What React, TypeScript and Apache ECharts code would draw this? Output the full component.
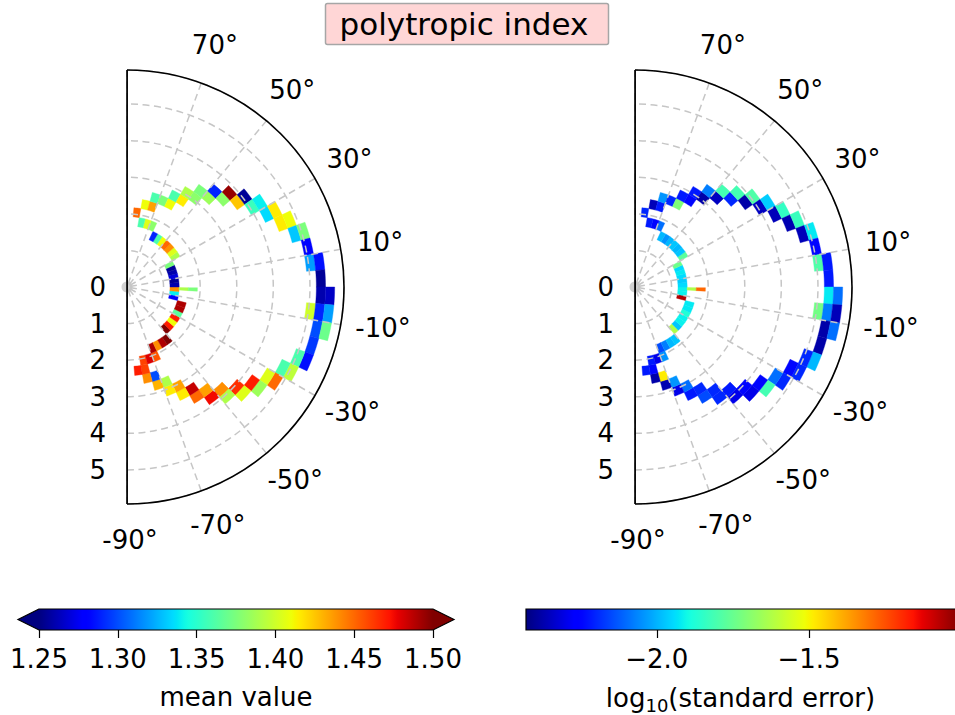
import React, { useEffect, useRef } from "react";
import * as echarts from "echarts";

// ---------------- data ----------------
// Bin centres: latitude angle (deg) and radial distance; 5° x 0.25 bins
const cellTheta = [
  82.5, 77.5, 72.5, 72.5, 67.5, 62.5, 62.5, 57.5, 57.5, 52.5,
  52.5, 47.5, 47.5, 42.5, 42.5, 37.5, 37.5, 32.5, 32.5, 27.5,
  27.5, 22.5, 22.5, 17.5, 17.5, 12.5, 7.5, 7.5, 2.5, -2.5,
  -2.5, -7.5, -7.5, -7.5, -12.5, -12.5, -17.5, -22.5, -22.5, -27.5,
  -27.5, -32.5, -32.5, -37.5, -37.5, -42.5, -42.5, -47.5, -47.5, -52.5,
  -52.5, -57.5, -57.5, -62.5, -62.5, -67.5, -67.5, -72.5, -72.5, -77.5,
  -77.5, -82.5, -77.5, -72.5, -67.5, -67.5, -62.5, -57.5, -52.5, -47.5,
  -42.5, -37.5, -32.5, -27.5, -22.5, -17.5, -12.5, -7.5, -2.5, 2.5,
  7.5, 12.5, 17.5, 22.5, 27.5, 32.5, 37.5, 42.5, 47.5, 52.5,
  57.5, 62.5, 67.5, 72.5, 77.5,
];
const cellRadius = [
  2.05, 2.3, 2.3, 2.55, 2.55, 2.55, 2.8, 2.8, 3.05, 3.05,
  3.3, 3.3, 3.55, 3.55, 3.8, 3.8, 4.05, 4.05, 4.3, 4.3,
  4.55, 4.55, 4.8, 4.8, 5.05, 5.05, 5.05, 5.3, 5.3, 5.3,
  5.55, 5.05, 5.3, 5.55, 5.3, 5.55, 5.3, 5.3, 5.05, 5.05,
  4.8, 4.8, 4.55, 4.55, 4.3, 4.3, 4.05, 4.05, 3.8, 3.8,
  3.55, 3.55, 3.3, 3.3, 3.05, 3.05, 2.8, 2.8, 2.55, 2.55,
  2.3, 2.3, 2.05, 2.05, 2.05, 1.8, 1.8, 1.8, 1.8, 1.55,
  1.55, 1.55, 1.55, 1.55, 1.55, 1.55, 1.3, 1.3, 1.3, 1.3,
  1.3, 1.3, 1.3, 1.3, 1.3, 1.55, 1.55, 1.55, 1.55, 1.55,
  1.55, 1.55, 1.8, 1.8, 1.8,
];
const meanValue = [
  1.45, 1.41, 1.435, 1.36, 1.375, 1.41, 1.36, 1.415, 1.39, 1.38,
  1.375, 1.385, 1.29, 1.38, 1.495, 1.425, 1.255, 1.355, 1.34, 1.335,
  1.415, 1.415, 1.41, 1.33, 1.375, 1.28, 1.32, 1.285, 1.255, 1.26,
  1.265, 1.40, 1.29, 1.32, 1.30, 1.37, 1.295, 1.285, 1.36, 1.395,
  1.36, 1.45, 1.405, 1.385, 1.47, 1.405, 1.465, 1.39, 1.44, 1.475,
  1.435, 1.45, 1.485, 1.415, 1.435, 1.415, 1.39, 1.43, 1.30, 1.44,
  1.46, 1.47, 1.46, 1.48, 1.455, 1.49, 1.44, 1.49, 1.50, 1.50,
  1.47, 1.41, 1.47, 1.365, 1.49, 1.49, 1.28, 1.34, 1.44, 1.26,
  1.255, 1.27, 1.26, 1.255, 1.375, 1.39, 1.405, 1.44, 1.45, 1.41,
  1.36, 1.29, 1.38, 1.405, 1.36,
];
const logStdErr = [
  -2.20, -2.36, -2.22, -2.05, -2.20, -1.72, -2.22, -2.25, -2.22, -2.38,
  -2.08, -2.35, -1.82, -2.20, -1.82, -2.38, -1.80, -2.35, -1.97, -2.36,
  -1.85, -2.37, -1.84, -2.36, -1.93, -2.25, -1.80, -2.22, -2.22, -1.93,
  -2.10, -1.74, -2.08, -2.36, -2.38, -2.10, -2.38, -2.00, -2.20, -2.20,
  -2.25, -2.20, -2.10, -1.82, -2.25, -2.30, -2.25, -2.30, -2.22, -2.20,
  -2.20, -2.15, -2.20, -2.22, -2.10, -2.30, -2.05, -2.37, -1.50, -2.38,
  -2.25, -2.22, -2.22, -2.30, -2.05, -2.15, -2.08, -2.00, -1.98, -1.64,
  -1.98, -1.92, -1.92, -1.88, -1.93, -1.93, -1.08, -1.92, -1.92, -1.95,
  -1.97, -1.95, -1.93, -1.95, -1.75, -1.78, -1.98, -2.00, -1.98, -2.00,
  -2.05, -2.00, -2.10, -2.25, -2.22,
];
// narrow spike near the equator
const spikeTheta = [-2, -2];
const spikeRadius = [1.55, 1.8];
const spikeMean = [1.39, 1.375];
const spikeLogErr = [-1.64, -1.3];

const angleTicks = [-90, -70, -50, -30, -10, 10, 30, 50, 70];
const meanTicks = [1.25, 1.3, 1.35, 1.4, 1.45, 1.5];
const errTicks = [-2.0, -1.5];
const meanRange = [1.25, 1.5];
const errRange = [-2.43, -1.02];
const rMax = 5.93;

// ---------------- helpers ----------------
const FONT = "'DejaVu Sans', 'Noto Sans', sans-serif";
const JET_R = [[0, 0], [0.35, 0], [0.66, 1], [0.89, 1], [1, 0.5]];
const JET_G = [[0, 0], [0.125, 0], [0.375, 1], [0.64, 1], [0.91, 0], [1, 0]];
const JET_B = [[0, 0.5], [0.11, 1], [0.34, 1], [0.65, 0], [1, 0]];
function seg(stops: number[][], t: number) {
  for (let i = 1; i < stops.length; i++) {
    if (t <= stops[i][0]) {
      const [x0, y0] = stops[i - 1];
      const [x1, y1] = stops[i];
      return y0 + ((y1 - y0) * (t - x0)) / (x1 - x0);
    }
  }
  return stops[stops.length - 1][1];
}
function jet(t: number) {
  const c = (s: number[][]) => Math.round(255 * seg(s, t));
  return `rgb(${c(JET_R)},${c(JET_G)},${c(JET_B)})`;
}
const JET = Array.from({ length: 101 }, (_, i) => jet(i / 100));
const JET_STOPS = JET.map((color, i) => ({ offset: i / 100, color }));

function cellRenderer(halfTheta: number, halfR: number) {
  return (params: any, api: any) => {
    const r = api.value(0);
    const t = api.value(1);
    const n = 4;
    const pts: number[][] = [];
    for (let k = 0; k <= n; k++) pts.push(api.coord([r - halfR, t - halfTheta + (2 * halfTheta * k) / n]));
    for (let k = n; k >= 0; k--) pts.push(api.coord([r + halfR, t - halfTheta + (2 * halfTheta * k) / n]));
    const color = api.visual("color");
    return { type: "polygon", shape: { points: pts }, style: { fill: color, stroke: color, lineWidth: 0.4 } };
  };
}

const CENTERS = [
  [127, 287],
  [635, 287],
];
const RADIUS_PX = 217;

export default function App() {
  const ref = useRef<HTMLDivElement>(null);
  useEffect(() => {
    document.body.style.margin = "0";
    const chart = echarts.init(ref.current!, null, { renderer: "svg" });
    const gridLine = { color: "#c6c6c6", width: 1.5, type: [7, 4.5] as any };

    const series: any[] = [];
    const visualMaps: any[] = [];
    [0, 1].forEach((p) => {
      const vals = p === 0 ? meanValue : logStdErr;
      const svals = p === 0 ? spikeMean : spikeLogErr;
      const range = p === 0 ? meanRange : errRange;
      const base = series.length;
      series.push({
        type: "custom",
        coordinateSystem: "polar",
        polarIndex: p,
        z: 1,
        silent: true,
        encode: { radius: 0, angle: 1 },
        data: cellRadius.map((r, i) => [r, cellTheta[i], vals[i]]),
        renderItem: cellRenderer(2.5, 0.125),
      });
      series.push({
        type: "custom",
        coordinateSystem: "polar",
        polarIndex: p,
        z: 1,
        silent: true,
        encode: { radius: 0, angle: 1 },
        data: spikeRadius.map((r, i) => [r, spikeTheta[i], svals[i]]),
        renderItem: cellRenderer(1.4, 0.125),
      });
      visualMaps.push({
        type: "continuous",
        show: false,
        seriesIndex: [base, base + 1],
        dimension: 2,
        min: range[0],
        max: range[1],
        inRange: { color: JET },
      });
      series.push({
        type: "scatter",
        coordinateSystem: "polar",
        polarIndex: p,
        z: 3,
        silent: true,
        symbolSize: 11,
        itemStyle: { color: "rgba(150,150,150,0.55)" },
        data: [[0, 0]],
      });
      series.push({
        type: "line",
        coordinateSystem: "polar",
        polarIndex: p,
        z: 20,
        zlevel: 0,
        clip: false,
        silent: true,
        symbol: "none",
        lineStyle: { color: "#000", width: 1.6, type: "solid" },
        data: [
          [rMax, 90],
          [0, 0],
          [rMax, -90],
        ],
      });
    });

    const graphics: any[] = [];
    // title
    graphics.push({
      type: "rect",
      shape: { x: 325.5, y: 3.5, width: 283, height: 41, r: 2 },
      style: { fill: "#ffd6d6", stroke: "#a6a6a6", lineWidth: 1.5 },
    });
    graphics.push({
      type: "text",
      style: { text: "polytropic index", x: 464, y: 24, align: "center", verticalAlign: "middle", fontSize: 31, fontFamily: FONT, fill: "#000" },
    });
    // angle labels
    CENTERS.forEach(([cx, cy]) => {
      angleTicks.forEach((a) => {
        const rad = (a * Math.PI) / 180;
        graphics.push({
          type: "text",
          silent: true,
          style: {
            text: `${a}°`,
            x: cx + 257 * Math.cos(rad) + (a < 0 ? 3 : 0),
            y: cy - 257 * Math.sin(rad) - (a < 0 ? 4 : 0),
            align: "center",
            verticalAlign: "middle",
            fontSize: 26,
            fontFamily: FONT,
            fill: "#000",
          },
        });
      });
    });
    // colorbars
    graphics.push({
      type: "rect",
      shape: { x: 39, y: 609, width: 394, height: 21 },
      style: { fill: new echarts.graphic.LinearGradient(0, 0, 1, 0, JET_STOPS) },
    });
    graphics.push({ type: "polygon", shape: { points: [[39, 609], [18, 619.5], [39, 630]] }, style: { fill: JET[0] } });
    graphics.push({ type: "polygon", shape: { points: [[433, 609], [454, 619.5], [433, 630]] }, style: { fill: JET[100] } });
    graphics.push({
      type: "polygon",
      shape: { points: [[39, 609], [18, 619.5], [39, 630], [433, 630], [454, 619.5], [433, 609]] },
      style: { fill: "none", stroke: "#000", lineWidth: 1.2 },
    });
    graphics.push({
      type: "rect",
      shape: { x: 526, y: 609, width: 435, height: 21 },
      style: { fill: new echarts.graphic.LinearGradient(0, 0, 1, 0, JET_STOPS), stroke: "#000", lineWidth: 1.2 },
    });
    // polar spines (left edge of the half disks)
    CENTERS.forEach(([cx, cy]) => {
      graphics.push({
        type: "line",
        z: 100,
        silent: true,
        shape: { x1: cx, y1: cy - RADIUS_PX, x2: cx, y2: cy + RADIUS_PX },
        style: { stroke: "#000", lineWidth: 1.6 },
      });
    });

    const polar = CENTERS.map((c) => ({ center: c, radius: [0, RADIUS_PX] }));
    const angleAxis = [0, 1].map((p) => ({
      polarIndex: p,
      type: "value",
      min: -90,
      max: 90,
      interval: 20,
      startAngle: -90,
      endAngle: 90,
      clockwise: false,
      z: 5,
      axisLine: { show: true, lineStyle: { color: "#000", width: 1.6 } },
      axisTick: { show: false },
      axisLabel: { show: false },
      splitLine: { show: true, lineStyle: gridLine },
    }));
    const radiusAxis = [0, 1].map((p) => ({
      polarIndex: p,
      type: "value",
      min: 0,
      max: rMax,
      interval: 1,
      z: 4,
      axisLine: { show: false },
      axisTick: { show: false },
      axisLabel: {
        show: true,
        margin: -21,
        align: "right",
        fontSize: 26,
        fontFamily: FONT,
        color: "#000",
        showMaxLabel: false,
        formatter: (v: number) => (Math.abs(v - Math.round(v)) < 1e-6 ? String(Math.round(v)) : ""),
      },
      splitLine: { show: true, lineStyle: gridLine },
    }));

    chart.setOption({
      animation: false,
      backgroundColor: "#fff",
      textStyle: { fontFamily: FONT },
      polar,
      angleAxis,
      radiusAxis,
      grid: [
        { left: 39, width: 394, top: 609, height: 21 },
        { left: 526, width: 435, top: 609, height: 21 },
      ],
      xAxis: [
        {
          gridIndex: 0,
          type: "value",
          min: meanRange[0],
          max: meanRange[1],
          interval: 0.05,
          axisLine: { show: false },
          splitLine: { show: false },
          axisTick: { show: true, length: 8, lineStyle: { color: "#000", width: 1.2 } },
          axisLabel: { fontSize: 26, fontFamily: FONT, color: "#000", margin: 16, formatter: (v: number) => v.toFixed(2) },
          name: "mean value",
          nameLocation: "middle",
          nameGap: 54,
          nameTextStyle: { fontSize: 26, fontFamily: FONT, color: "#000" },
        },
        {
          gridIndex: 1,
          type: "value",
          min: errRange[0],
          max: errRange[1],
          axisLine: { show: false },
          splitLine: { show: false },
          axisTick: { show: true, length: 8, customValues: errTicks, lineStyle: { color: "#000", width: 1.2 } },
          axisLabel: {
            fontSize: 26,
            fontFamily: FONT,
            color: "#000",
            margin: 16,
            customValues: errTicks,
            formatter: (v: number) => (v < 0 ? "\u2212" : "") + Math.abs(v).toFixed(1),
          },
          name: "{a|log}{b|10}{a|(standard error)}",
          nameLocation: "middle",
          nameGap: 52,
          nameTextStyle: {
            color: "#000",
            rich: {
              a: { fontSize: 26, fontFamily: FONT, lineHeight: 32, color: "#000" },
              b: { fontSize: 18, fontFamily: FONT, lineHeight: 18, verticalAlign: "bottom", color: "#000" },
            },
          },
        },
      ],
      yAxis: [
        { gridIndex: 0, type: "value", show: false, min: 0, max: 1 },
        { gridIndex: 1, type: "value", show: false, min: 0, max: 1 },
      ],
      visualMap: visualMaps,
      series,
      graphic: graphics,
    });
    return () => chart.dispose();
  }, []);
  return <div ref={ref} style={{ width: 955, height: 715, position: "absolute", left: 0, top: 0 }} />;
}
